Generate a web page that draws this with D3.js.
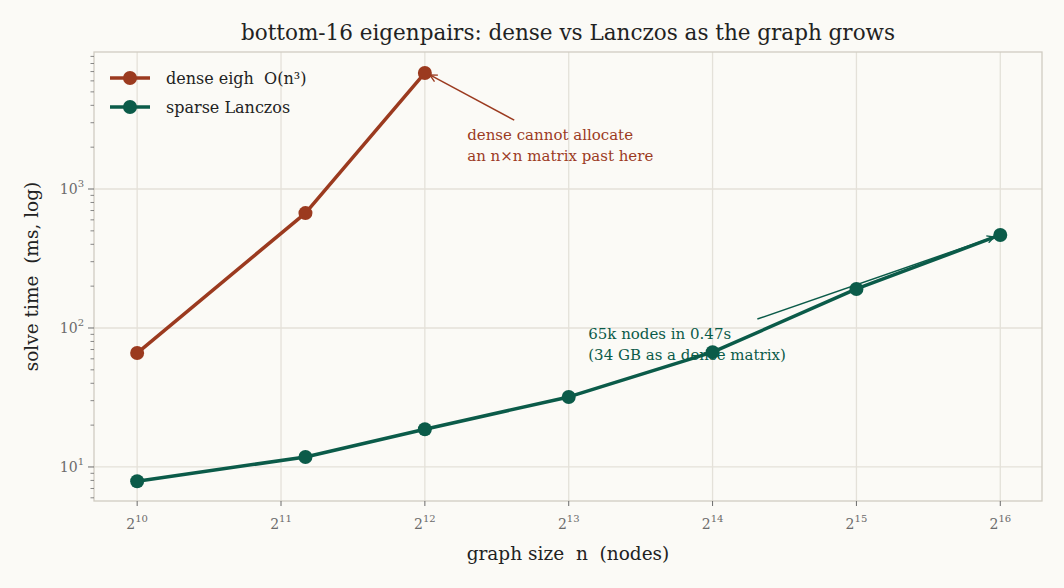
<!DOCTYPE html>
<html>
<head>
<meta charset="utf-8">
<script src="https://cdn.jsdelivr.net/npm/d3@7"></script>
<style>
  body { margin: 0; background: #fbfaf6; }
  svg { display: block; font-family: "DejaVu Serif", Georgia, serif; }
  text { white-space: pre; }
</style>
</head>
<body>
<div id="chart"></div>
<script>
// graph sizes (nodes) and solve times in ms
const denseN = [1024, 2304, 4096];
const denseMs = [66, 671, 6840];
const sparseN = [1024, 2304, 4096, 8192, 16384, 32768, 65536];
const sparseMs = [7.9, 11.8, 18.7, 31.9, 67, 191, 467];
const xTickExps = [10, 11, 12, 13, 14, 15, 16];
const yTickExps = [1, 2, 3];
const seriesNames = ["dense eigh  O(n\u00b3)", "sparse Lanczos"];

const colors = { dense: "#9b3a1f", sparse: "#0b5b49", grid: "#e4e1d9", spine: "#d0ccc2", tick: "#6b6b6b", text: "#222222" };

const W = 1064, H = 588;
const margin = { top: 52, right: 22, bottom: 87, left: 94 };

const x = d3.scaleLog().base(2)
  .domain([Math.pow(2, 9.70), Math.pow(2, 16.29)])
  .range([margin.left, W - margin.right]);
const y = d3.scaleLog()
  .domain([5.69, 9680])
  .range([H - margin.bottom, margin.top]);

const svg = d3.select("#chart").append("svg").attr("width", W).attr("height", H);
svg.append("rect").attr("width", W).attr("height", H).attr("fill", "#fbfaf6");

const defs = svg.append("defs");
[["arrDense", colors.dense], ["arrSparse", colors.sparse]].forEach(([id, c]) => {
  defs.append("marker").attr("id", id).attr("viewBox", "0 0 10 10")
    .attr("refX", 9).attr("refY", 5).attr("markerWidth", 9).attr("markerHeight", 9)
    .attr("orient", "auto").attr("markerUnits", "userSpaceOnUse")
    .append("path").attr("d", "M1,1 L9,5 L1,9").attr("fill", "none")
    .attr("stroke", c).attr("stroke-width", 1.5);
});

// grid
const grid = svg.append("g");
grid.selectAll(".gx").data(xTickExps).enter().append("line")
  .attr("x1", d => x(Math.pow(2, d))).attr("x2", d => x(Math.pow(2, d)))
  .attr("y1", margin.top).attr("y2", H - margin.bottom)
  .attr("stroke", colors.grid).attr("stroke-width", 1.3);
grid.selectAll(".gy").data(yTickExps).enter().append("line")
  .attr("x1", margin.left).attr("x2", W - margin.right)
  .attr("y1", d => y(Math.pow(10, d))).attr("y2", d => y(Math.pow(10, d)))
  .attr("stroke", colors.grid).attr("stroke-width", 1.3);

// spines
svg.append("rect").attr("x", margin.left).attr("y", margin.top)
  .attr("width", W - margin.right - margin.left).attr("height", H - margin.bottom - margin.top)
  .attr("fill", "none").attr("stroke", colors.spine).attr("stroke-width", 1.3);

// x axis ticks
const xAxis = svg.append("g");
xTickExps.forEach(e => {
  const px = x(Math.pow(2, e));
  xAxis.append("line").attr("x1", px).attr("x2", px)
    .attr("y1", H - margin.bottom).attr("y2", H - margin.bottom + 5)
    .attr("stroke", colors.tick).attr("stroke-width", 1);
  const t = xAxis.append("text").attr("x", px).attr("y", H - margin.bottom + 28)
    .attr("text-anchor", "middle").attr("fill", colors.tick).attr("font-size", 14);
  t.append("tspan").text("2");
  t.append("tspan").attr("dy", -7).attr("font-size", 10).text(e);
});

// y axis ticks (major + minor)
const yAxis = svg.append("g");
yTickExps.forEach(e => {
  const py = y(Math.pow(10, e));
  yAxis.append("line").attr("x1", margin.left - 6).attr("x2", margin.left)
    .attr("y1", py).attr("y2", py).attr("stroke", colors.tick).attr("stroke-width", 1);
  const t = yAxis.append("text").attr("x", margin.left - 10).attr("y", py + 5)
    .attr("text-anchor", "end").attr("fill", colors.tick).attr("font-size", 14);
  t.append("tspan").text("10");
  t.append("tspan").attr("dy", -7).attr("font-size", 10).text(e);
});
const minor = [];
[0, 1, 2, 3].forEach(e => d3.range(2, 10).forEach(m => {
  const v = m * Math.pow(10, e);
  if (v >= y.domain()[0] && v <= y.domain()[1]) minor.push(v);
}));
yAxis.selectAll(".minor").data(minor).enter().append("line")
  .attr("x1", margin.left - 3.5).attr("x2", margin.left)
  .attr("y1", d => y(d)).attr("y2", d => y(d))
  .attr("stroke", colors.tick).attr("stroke-width", 0.8);

// lines
const line = d3.line().x(d => x(d[0])).y(d => y(d[1]));
const series = [
  { key: "dense", pts: d3.zip(denseN, denseMs), c: colors.dense },
  { key: "sparse", pts: d3.zip(sparseN, sparseMs), c: colors.sparse }
];
series.forEach(s => {
  svg.append("path").datum(s.pts).attr("d", line).attr("fill", "none")
    .attr("stroke", s.c).attr("stroke-width", 3.5).attr("stroke-linejoin", "round");
  svg.selectAll(".pt-" + s.key).data(s.pts).enter().append("circle")
    .attr("cx", d => x(d[0])).attr("cy", d => y(d[1])).attr("r", 7).attr("fill", s.c);
});

// annotations
const ann = svg.append("g").attr("font-size", 15);
ann.append("line")
  .attr("x1", x(6300)).attr("y1", y(3130)).attr("x2", x(4096) + 5).attr("y2", y(6840) + 2)
  .attr("stroke", colors.dense).attr("stroke-width", 1.5).attr("marker-end", "url(#arrDense)");
const t1 = ann.append("text").attr("x", x(5024)).attr("y", y(2250)).attr("fill", colors.dense);
t1.append("tspan").text("dense cannot allocate");
t1.append("tspan").attr("x", x(5024)).attr("dy", 21).text("an n\u00d7n matrix past here");

ann.append("line")
  .attr("x1", x(20330)).attr("y1", y(116)).attr("x2", x(65536) - 6).attr("y2", y(467) + 2)
  .attr("stroke", colors.sparse).attr("stroke-width", 1.5).attr("marker-end", "url(#arrSparse)");
const t2 = ann.append("text").attr("x", x(9000)).attr("y", y(83.4)).attr("fill", colors.sparse);
t2.append("tspan").text("65k nodes in 0.47s");
t2.append("tspan").attr("x", x(9000)).attr("dy", 21).text("(34 GB as a dense matrix)");

// legend
const leg = svg.append("g").attr("transform", "translate(110,78)");
series.forEach((s, i) => {
  const g = leg.append("g").attr("transform", `translate(0,${i * 29})`);
  g.append("line").attr("x1", 0).attr("x2", 40).attr("stroke", s.c).attr("stroke-width", 3.5);
  g.append("circle").attr("cx", 20).attr("r", 7).attr("fill", s.c);
  g.append("text").attr("x", 56).attr("y", 5.5).attr("font-size", 16).attr("fill", colors.text).text(seriesNames[i]);
});

// title and axis labels
svg.append("text").attr("x", (margin.left + W - margin.right) / 2).attr("y", 40)
  .attr("text-anchor", "middle").attr("font-size", 21.5).attr("fill", colors.text)
  .text("bottom-16 eigenpairs: dense vs Lanczos as the graph grows");
svg.append("text").attr("x", (margin.left + W - margin.right) / 2).attr("y", 560)
  .attr("text-anchor", "middle").attr("font-size", 18.5).attr("fill", colors.text)
  .text("graph size  n  (nodes)");
svg.append("text").attr("transform", `translate(38,${(margin.top + H - margin.bottom) / 2}) rotate(-90)`)
  .attr("text-anchor", "middle").attr("font-size", 18.5).attr("fill", colors.text)
  .text("solve time  (ms, log)");
</script>
</body>
</html>
